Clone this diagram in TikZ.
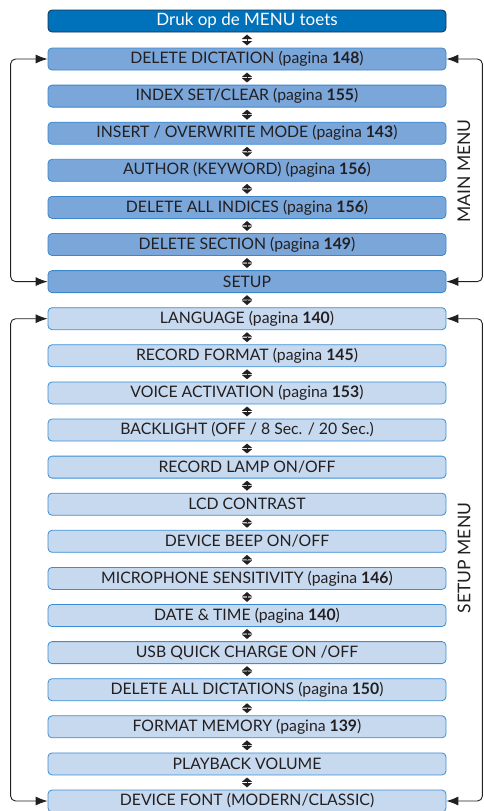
\documentclass[tikz,border=0pt]{standalone}
\usepackage{fontspec}
\setmainfont{Lato}
\usetikzlibrary{arrows.meta}
\definecolor{dkfill}{HTML}{0071BB}
\definecolor{dkdraw}{HTML}{1B2E4F}
\definecolor{mainfill}{HTML}{7AA6DA}
\definecolor{maindraw}{HTML}{3A87CC}
\definecolor{setfill}{HTML}{C7D9EF}
\definecolor{setdraw}{HTML}{3A8ED5}
\definecolor{txt}{HTML}{231F20}
\begin{document}
\begin{tikzpicture}[x=1pt,y=1pt,
 boxbase/.style={rounded corners=4pt, minimum width=398pt, minimum height=22pt, inner sep=0pt, line width=0.8pt, font=\fontsize{15.8}{17}\selectfont, text=txt},
 topbox/.style={boxbase, fill=dkfill, draw=dkdraw, text=white, font=\fontsize{17}{19}\selectfont},
 mainbox/.style={boxbase, fill=mainfill, draw=maindraw},
 setbox/.style={boxbase, fill=setfill, draw=setdraw},
 dbl/.style={draw=txt, line width=0.05pt, {Triangle[length=4.3pt,width=10pt]}-{Triangle[length=4.3pt,width=10pt]}, shorten <=2.3pt, shorten >=2.3pt},
 looparrow/.style={draw=txt, line width=0.9pt, rounded corners=5pt, {Latex[length=12pt,width=9pt]}-{Latex[length=12pt,width=9pt]}},
 side/.style={rotate=90, text=txt, font=\fontsize{17.5}{19}\selectfont}]
\useasboundingbox (0,0) rectangle (483,-811);
\node[topbox] (t) at (247,-21) {Druk op de MENU toets};
\foreach \lbl [count=\i from 0] in {
 {DELETE DICTATION (pagina \textbf{148})},
 {INDEX SET/CLEAR (pagina \textbf{155})},
 {INSERT / OVERWRITE MODE (pagina \textbf{143})},
 {AUTHOR (KEYWORD) (pagina \textbf{156})},
 {DELETE ALL INDICES (pagina \textbf{156})},
 {DELETE SECTION (pagina \textbf{149})},
 {SETUP}}
 \node[mainbox] (n\i) at (247,{-59-37.1*\i}) {\lbl};
\foreach \lbl [count=\i from 7] in {
 {LANGUAGE (pagina \textbf{140})},
 {RECORD FORMAT (pagina \textbf{145})},
 {VOICE ACTIVATION (pagina \textbf{153})},
 {BACKLIGHT (OFF / 8 Sec. / 20 Sec.)},
 {RECORD LAMP ON/OFF},
 {LCD CONTRAST},
 {DEVICE BEEP ON/OFF},
 {MICROPHONE SENSITIVITY (pagina \textbf{146})},
 {DATE \& TIME (pagina \textbf{140})},
 {USB QUICK CHARGE ON /OFF},
 {DELETE ALL DICTATIONS (pagina \textbf{150})},
 {FORMAT MEMORY (pagina \textbf{139})},
 {PLAYBACK VOLUME},
 {DEVICE FONT (MODERN/CLASSIC)}}
 \node[setbox] (n\i) at (247,{-59-37.1*\i}) {\lbl};
\draw[dbl] (t.south) -- (n0.north);
\foreach \i [evaluate=\i as \j using int(\i+1)] in {0,...,19}
 \draw[dbl] (n\i.south) -- (n\j.north);
\draw[looparrow] (n0.west) -- ++(-37,0) |- (n6.west);
\draw[looparrow] (n0.east) -- ++(36,0) |- (n6.east);
\draw[looparrow] (n7.west) -- ++(-37,0) |- (n20.west);
\draw[looparrow] (n7.east) -- ++(36,0) |- (n20.east);
\node[side] (mm) at (464,-171) {MAIN MENU};
\node[side] (sm) at (464,-558) {SETUP MENU};
\end{tikzpicture}
\end{document}
